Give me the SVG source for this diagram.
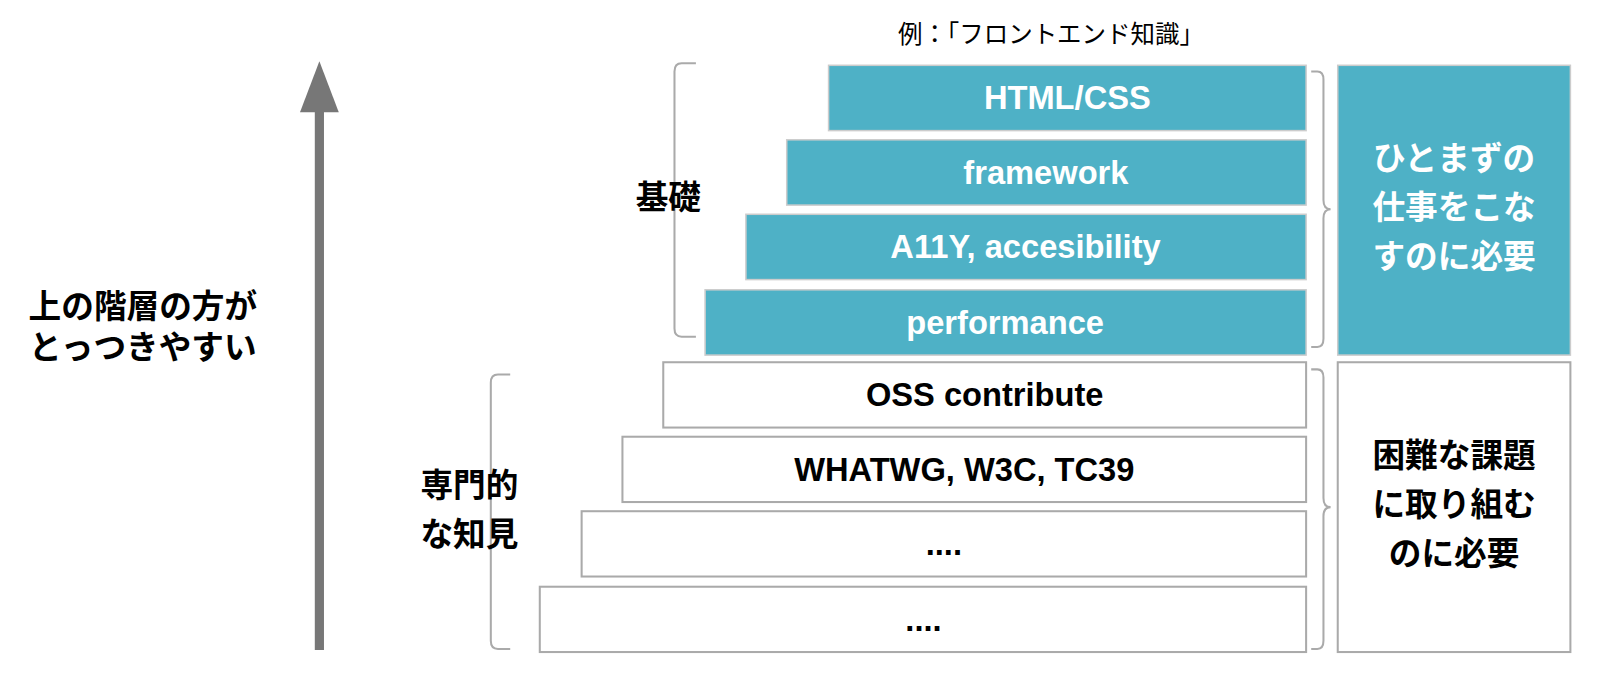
<svg xmlns="http://www.w3.org/2000/svg" width="1600" height="680" viewBox="0 0 1600 680">
<style>
.t{fill:#4EB1C6;stroke:#ccc;stroke-width:1.5}
.w{fill:#fff;stroke:#aaa;stroke-width:2}
.br{fill:none;stroke:#aaa;stroke-width:2}
text{font-family:"Liberation Sans","Noto Sans CJK JP",sans-serif;font-weight:bold;text-anchor:middle}
.lt{fill:#fff;font-size:32px}
.dk{fill:#000;font-size:32px}
.jp{fill:#000;font-size:32px}
</style>
<rect width="1600" height="680" fill="#fff"/>
<g transform="scale(1.0204)">
<g id="arrow"><line x1="313" y1="637" x2="313" y2="105" stroke="#777" stroke-width="9"/><polygon points="313,60 294,110 332,110" fill="#777"/></g>
<text x="140" y="312" class="jp">上の階層の方が</text>
<text x="140" y="352" class="jp">とっつきやすい</text>
<text x="1030" y="42" style="font-weight:normal;font-size:24px">例：「フロントエンド知識」</text>
<g id="n1"><rect class="t" x="812" y="64" width="468" height="64"/><text class="lt" x="1046" y="107">HTML/CSS</text></g>
<g id="n2"><rect class="t" x="771" y="137" width="509" height="64"/><text class="lt" x="1025" y="180">framework</text></g>
<g id="n3"><rect class="t" x="731" y="210" width="549" height="64"/><text class="lt" x="1005" y="253">A11Y, accesibility</text></g>
<g id="n4"><rect class="t" x="691" y="284" width="589" height="64"/><text class="lt" x="985" y="327">performance</text></g>
<g id="n5"><rect class="w" x="650" y="355" width="630" height="64"/><text class="dk" x="965" y="398">OSS contribute</text></g>
<g id="n6"><rect class="w" x="610" y="428" width="670" height="64"/><text class="dk" x="945" y="471">WHATWG, W3C, TC39</text></g>
<g id="n7"><rect class="w" x="570" y="501" width="710" height="64"/><text class="dk" x="925" y="544">....</text></g>
<g id="n8"><rect class="w" x="529" y="575" width="751" height="64"/><text class="dk" x="905" y="618">....</text></g>
<g id="r1"><rect class="t" x="1311" y="64" width="228" height="284"/>
<text class="lt" x="1425" y="167">ひとまずの</text><text class="lt" x="1425" y="215">仕事をこな</text><text class="lt" x="1425" y="263">すのに必要</text></g>
<g id="r2"><rect class="w" x="1311" y="355" width="228" height="284"/>
<text class="dk" x="1425" y="458">困難な課題</text><text class="dk" x="1425" y="506">に取り組む</text><text class="dk" x="1425" y="554">のに必要</text></g>
<g id="brackets">
<path class="br" d="M682,62 H668 Q661,62 661,70 V322 Q661,330 668,330 H682"/>
<path class="br" d="M500,367 H488 Q481,367 481,375 V628 Q481,636 488,636 H500"/>
<path class="br" d="M1285,70 H1291 Q1297,70 1297,78 V196 Q1297,205 1304,205 Q1297,205 1297,214 V332 Q1297,340 1291,340 H1285"/>
<path class="br" d="M1285,362 H1291 Q1297,362 1297,370 V488 Q1297,497 1304,497 Q1297,497 1297,506 V628 Q1297,636 1291,636 H1285"/>
</g>
<text class="jp" x="655" y="205">基礎</text>
<text class="jp" x="460" y="487">専門的</text>
<text class="jp" x="460" y="535">な知見</text>
</g>
</svg>
